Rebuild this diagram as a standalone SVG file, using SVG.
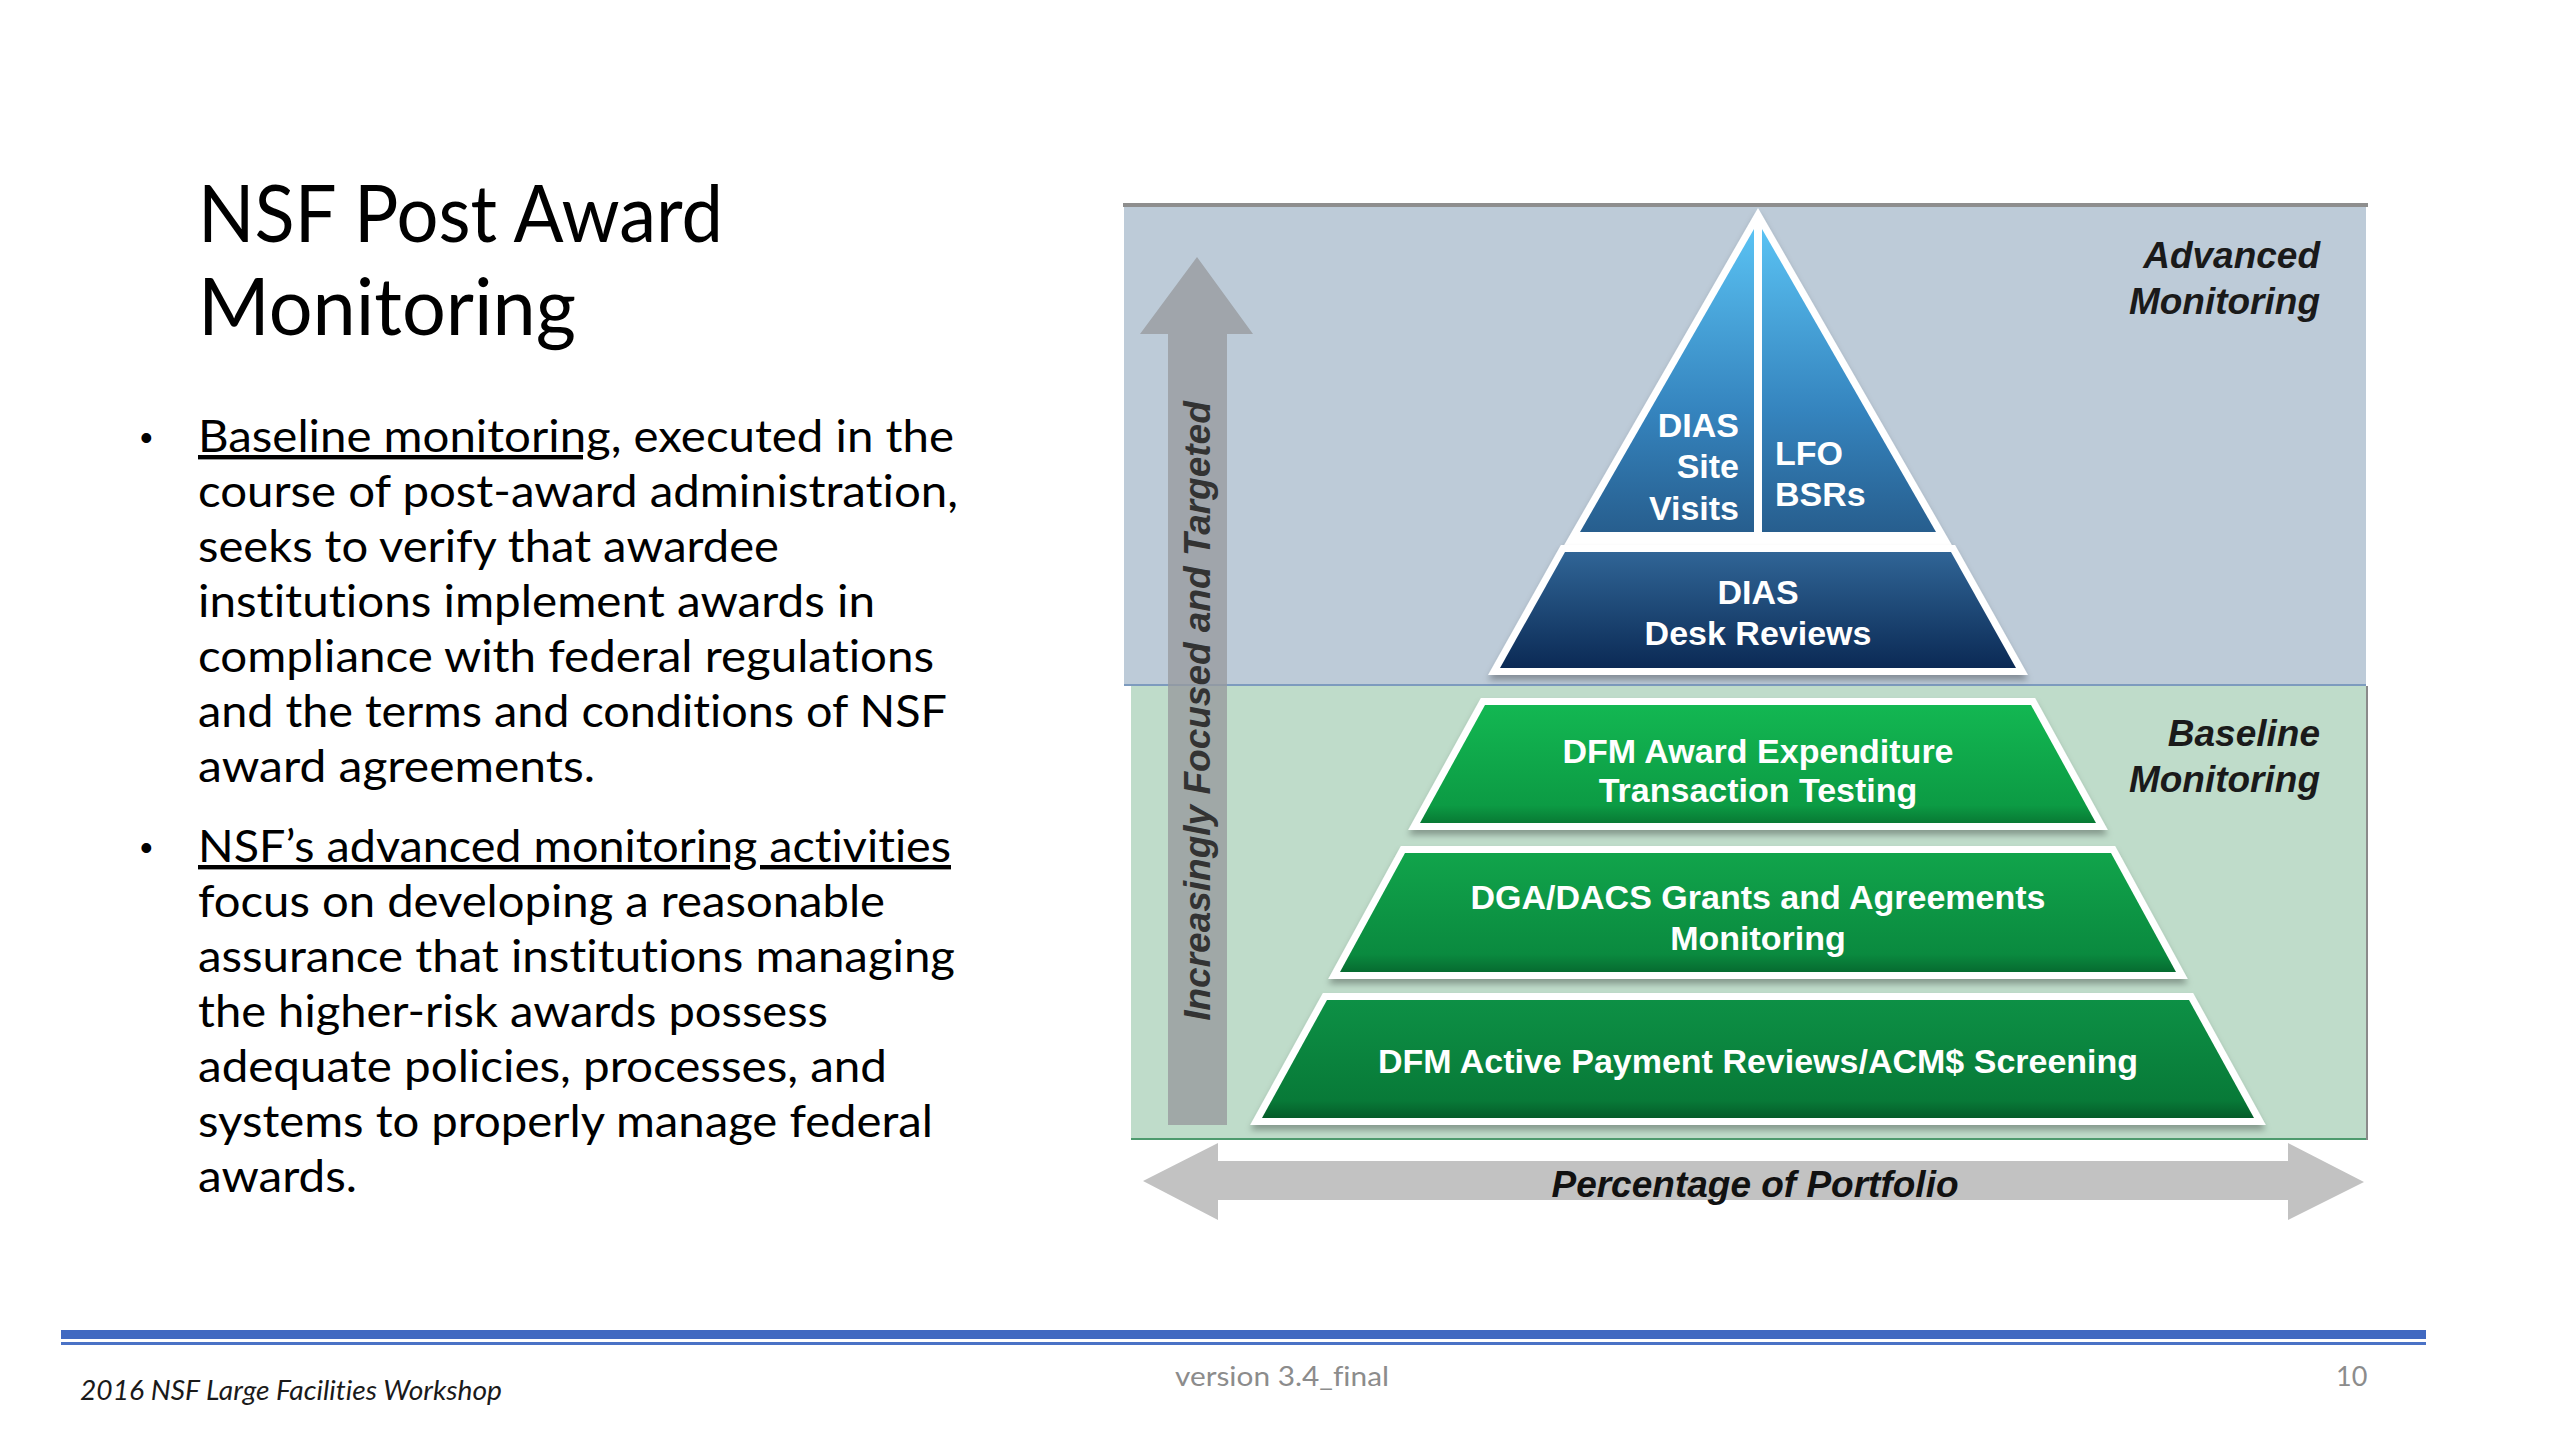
<svg xmlns="http://www.w3.org/2000/svg" width="2560" height="1440" viewBox="0 0 2560 1440">
<defs>
<style>
.title{font-family:Lato,"Open Sans","Liberation Sans",sans-serif;font-size:80px;fill:#000}
.body{font-family:Lato,"Open Sans","Liberation Sans",sans-serif;font-size:44px;fill:#000;font-variant-ligatures:none}
.bul{font-family:"Liberation Sans",Arial,sans-serif;font-size:36px;fill:#000}
.ul{text-decoration:underline}
.lbl{font-family:"Liberation Sans",Arial,sans-serif;font-weight:bold;font-size:34px;fill:#fff}
.side{font-family:"Liberation Sans",Arial,sans-serif;font-weight:bold;font-style:italic;font-size:37px;fill:#1a1a1a}
.axis{font-family:"Liberation Sans",Arial,sans-serif;font-weight:bold;font-style:italic;font-size:37px;fill:#333}
.foot{font-family:Lato,"Open Sans","Liberation Sans",sans-serif;font-size:27px;font-variant-ligatures:none}
.under{fill:#fff;stroke:#fff;stroke-width:14;stroke-linejoin:miter;filter:url(#sh)}
</style>
<filter id="sh" x="-10%" y="-20%" width="120%" height="150%">
<feDropShadow dx="0" dy="5" stdDeviation="3" flood-color="#000" flood-opacity="0.3"/>
</filter>
<linearGradient id="gTri" x1="0" y1="0" x2="0" y2="1">
<stop offset="0" stop-color="#5AC2F3"/><stop offset="0.6" stop-color="#3584BE"/><stop offset="1" stop-color="#275E8E"/>
</linearGradient>
<linearGradient id="gDesk" x1="0" y1="0" x2="0" y2="1">
<stop offset="0" stop-color="#306596"/><stop offset="1" stop-color="#0B2A55"/>
</linearGradient>
<linearGradient id="gT1" x1="0" y1="0" x2="0" y2="1">
<stop offset="0" stop-color="#13B752"/><stop offset="0.85" stop-color="#0C9B44"/><stop offset="1" stop-color="#087A34"/>
</linearGradient>
<linearGradient id="gT2" x1="0" y1="0" x2="0" y2="1">
<stop offset="0" stop-color="#11A44B"/><stop offset="0.85" stop-color="#0A8A3F"/><stop offset="1" stop-color="#066B30"/>
</linearGradient>
<linearGradient id="gT3" x1="0" y1="0" x2="0" y2="1">
<stop offset="0" stop-color="#0D9045"/><stop offset="0.85" stop-color="#087A38"/><stop offset="1" stop-color="#055C29"/>
</linearGradient>
</defs>
<rect width="2560" height="1440" fill="#fff"/>

<g id="title">
<text class="title" x="198" y="242" textLength="525" lengthAdjust="spacingAndGlyphs">NSF Post Award</text>
<text class="title" x="198" y="335" textLength="378" lengthAdjust="spacingAndGlyphs">Monitoring</text>
</g>

<g id="bullets">
<text class="bul" x="140" y="450">•</text>
<text class="body" x="198" y="452" textLength="756" lengthAdjust="spacingAndGlyphs"><tspan class="ul">Baseline monitoring</tspan>, executed in the</text>
<text class="body" x="198" y="507" textLength="760" lengthAdjust="spacingAndGlyphs">course of post-award administration,</text>
<text class="body" x="198" y="562" textLength="581" lengthAdjust="spacingAndGlyphs">seeks to verify that awardee</text>
<text class="body" x="198" y="617" textLength="677" lengthAdjust="spacingAndGlyphs">institutions implement awards in</text>
<text class="body" x="198" y="672" textLength="736" lengthAdjust="spacingAndGlyphs">compliance with federal regulations</text>
<text class="body" x="198" y="727" textLength="749" lengthAdjust="spacingAndGlyphs">and the terms and conditions of NSF</text>
<text class="body" x="198" y="782" textLength="397" lengthAdjust="spacingAndGlyphs">award agreements.</text>
<text class="bul" x="140" y="860">•</text>
<text class="body" x="198" y="862" textLength="753" lengthAdjust="spacingAndGlyphs"><tspan class="ul">NSF’s advanced monitoring activities</tspan></text>
<text class="body" x="198" y="917" textLength="687" lengthAdjust="spacingAndGlyphs">focus on developing a reasonable</text>
<text class="body" x="198" y="972" textLength="757" lengthAdjust="spacingAndGlyphs">assurance that institutions managing</text>
<text class="body" x="198" y="1027" textLength="630" lengthAdjust="spacingAndGlyphs">the higher-risk awards possess</text>
<text class="body" x="198" y="1082" textLength="689" lengthAdjust="spacingAndGlyphs">adequate policies, processes, and</text>
<text class="body" x="198" y="1137" textLength="735" lengthAdjust="spacingAndGlyphs">systems to properly manage federal</text>
<text class="body" x="198" y="1192" textLength="159" lengthAdjust="spacingAndGlyphs">awards.</text>
</g>

<g id="bands">
<rect x="1124" y="207" width="1242" height="478" fill="#BDCBD8"/>
<rect x="1131" y="686" width="1237" height="453" fill="#BFDCCA"/>
<line x1="1123" y1="205" x2="2368" y2="205" stroke="#8E8E8E" stroke-width="4"/>
<line x1="1124" y1="685" x2="2366" y2="685" stroke="#7D9BBE" stroke-width="2"/>
<line x1="1131" y1="1139" x2="2368" y2="1139" stroke="#4E9A6E" stroke-width="2"/>
<line x1="2367" y1="686" x2="2367" y2="1140" stroke="#8a8a8a" stroke-width="2"/>
</g>

<g id="vertical-arrow">
<polygon points="1197,257 1253,334 1227,334 1227,1125 1168,1125 1168,334 1140,334" fill="#979A9D" fill-opacity="0.78"/>
<text class="axis" transform="translate(1210,711) rotate(-90)" text-anchor="middle">Increasingly Focused and Targeted</text>
</g>

<g id="horizontal-arrow">
<polygon points="1143,1181 1218,1143 1218,1161 2288,1161 2288,1143 2364,1182 2288,1220 2288,1200 1218,1200 1218,1220" fill="#C2C2C2"/>
<text class="axis" x="1755" y="1197" text-anchor="middle" style="fill:#111">Percentage of Portfolio</text>
</g>

<g id="advanced-label">
<text class="side" x="2320" y="268" text-anchor="end">Advanced</text>
<text class="side" x="2320" y="314" text-anchor="end">Monitoring</text>
</g>
<g id="baseline-label">
<text class="side" x="2320" y="746" text-anchor="end">Baseline</text>
<text class="side" x="2320" y="792" text-anchor="end">Monitoring</text>
</g>

<g id="tier-top">
<polygon class="under" points="1758,222 1574,542 1942,542"/>
<polygon points="1754,229 1754,532 1580,532" fill="url(#gTri)"/>
<polygon points="1762,229 1762,532 1936,532" fill="url(#gTri)"/>
<text class="lbl" x="1739" y="437" text-anchor="end">DIAS</text>
<text class="lbl" x="1739" y="478" text-anchor="end">Site</text>
<text class="lbl" x="1739" y="520" text-anchor="end">Visits</text>
<text class="lbl" x="1775" y="465">LFO</text>
<text class="lbl" x="1775" y="506">BSRs</text>
</g>

<g id="tier-desk">
<polygon class="under" points="1565,552 1951,552 2016,668 1500,668"/>
<polygon points="1565,552 1951,552 2016,668 1500,668" fill="url(#gDesk)"/>
<text class="lbl" x="1758" y="604" text-anchor="middle">DIAS</text>
<text class="lbl" x="1758" y="645" text-anchor="middle">Desk Reviews</text>
</g>

<g id="tier-dfm-award">
<polygon class="under" points="1485,705 2031,705 2096,823 1420,823"/>
<polygon points="1485,705 2031,705 2096,823 1420,823" fill="url(#gT1)"/>
<text class="lbl" x="1758" y="763" text-anchor="middle">DFM Award Expenditure</text>
<text class="lbl" x="1758" y="802" text-anchor="middle">Transaction Testing</text>
</g>

<g id="tier-dga">
<polygon class="under" points="1405,853 2111,853 2176,972 1340,972"/>
<polygon points="1405,853 2111,853 2176,972 1340,972" fill="url(#gT2)"/>
<text class="lbl" x="1758" y="909" text-anchor="middle">DGA/DACS Grants and Agreements</text>
<text class="lbl" x="1758" y="950" text-anchor="middle">Monitoring</text>
</g>

<g id="tier-dfm-active">
<polygon class="under" points="1327,1000 2189,1000 2254,1118 1262,1118"/>
<polygon points="1327,1000 2189,1000 2254,1118 1262,1118" fill="url(#gT3)"/>
<text class="lbl" x="1758" y="1073" text-anchor="middle">DFM Active Payment Reviews/ACM$ Screening</text>
</g>

<g id="footer">
<rect x="61" y="1330" width="2365" height="9" fill="#4169C1"/>
<rect x="61" y="1342" width="2365" height="3" fill="#4A72C6"/>
<text class="foot" x="80" y="1400" font-style="italic" fill="#1a1a1a" textLength="422" lengthAdjust="spacingAndGlyphs">2016 NSF Large Facilities Workshop</text>
<text class="foot" x="1175" y="1386" fill="#8c8c8c" textLength="214" lengthAdjust="spacingAndGlyphs">version 3.4_final</text>
<text class="foot" x="2336" y="1386" fill="#8c8c8c">10</text>
</g>
</svg>
